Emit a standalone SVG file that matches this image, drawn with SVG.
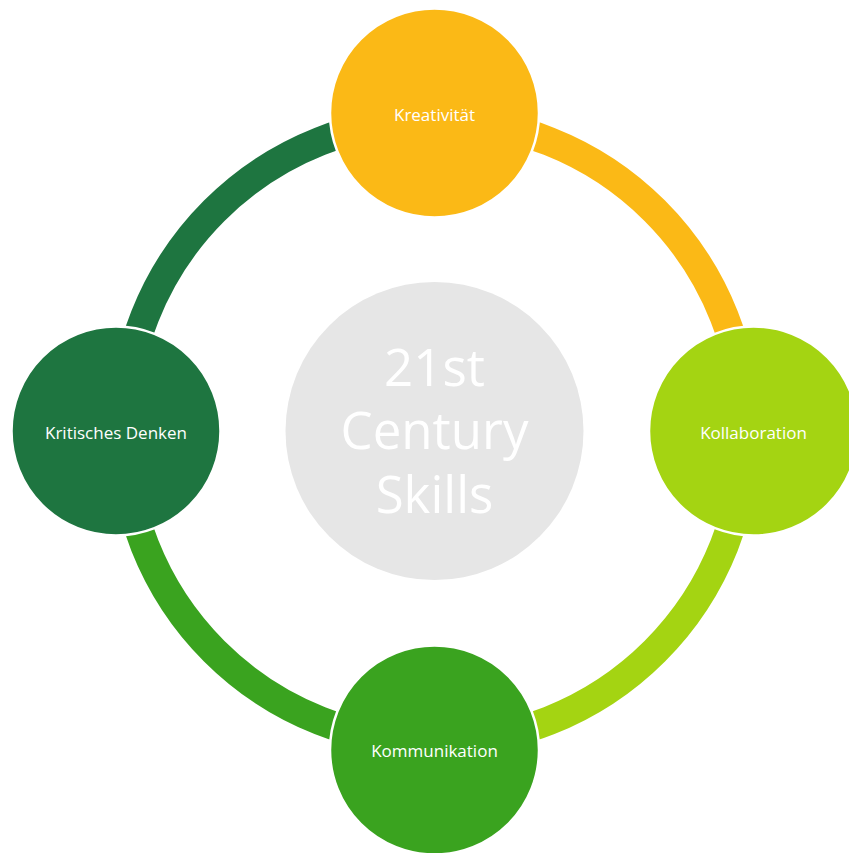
<svg xmlns="http://www.w3.org/2000/svg" width="849" height="853" viewBox="0 0 849 853">
<style>
.arc{fill:none;stroke-width:29}
.node{stroke:#fff;stroke-width:2.5}
.lbl{font-family:"Open Sans","Noto Sans","DejaVu Sans",sans-serif;font-size:17px;fill:#fff;text-anchor:middle}
.ctr{font-family:"Open Sans","Noto Sans","DejaVu Sans",sans-serif;font-size:51px;fill:#fff;text-anchor:middle}
</style>
<rect width="849" height="853" fill="#fff"/>
<g id="connectors">
<path class="arc" stroke="#FBB916" d="M434.5 119.5 A311.5 311.5 0 0 1 746 431"/>
<path class="arc" stroke="#A4D412" d="M746 431 A311.5 311.5 0 0 1 434.5 742.5"/>
<path class="arc" stroke="#3AA31F" d="M434.5 742.5 A311.5 311.5 0 0 1 123 431"/>
<path class="arc" stroke="#1E7540" d="M123 431 A311.5 311.5 0 0 1 434.5 119.5"/>
</g>
<g id="center">
<circle cx="434.5" cy="431" r="149" fill="#E6E6E6"/>
<text class="ctr" x="434.5" y="386">21st</text>
<text class="ctr" x="434.5" y="449">Century</text>
<text class="ctr" x="434.5" y="513">Skills</text>
</g>
<g id="kreativitaet">
<circle class="node" cx="434.5" cy="113" r="104.5" fill="#FBB916"/>
<text class="lbl" x="434.5" y="121">Kreativität</text>
</g>
<g id="kollaboration">
<circle class="node" cx="753.5" cy="431" r="104.5" fill="#A4D412"/>
<text class="lbl" x="753.5" y="439">Kollaboration</text>
</g>
<g id="kommunikation">
<circle class="node" cx="434.5" cy="750" r="104.5" fill="#3AA31F"/>
<text class="lbl" x="434.5" y="757">Kommunikation</text>
</g>
<g id="kritisches-denken">
<circle class="node" cx="116" cy="431" r="104.5" fill="#1E7540"/>
<text class="lbl" x="116" y="439">Kritisches Denken</text>
</g>
</svg>
